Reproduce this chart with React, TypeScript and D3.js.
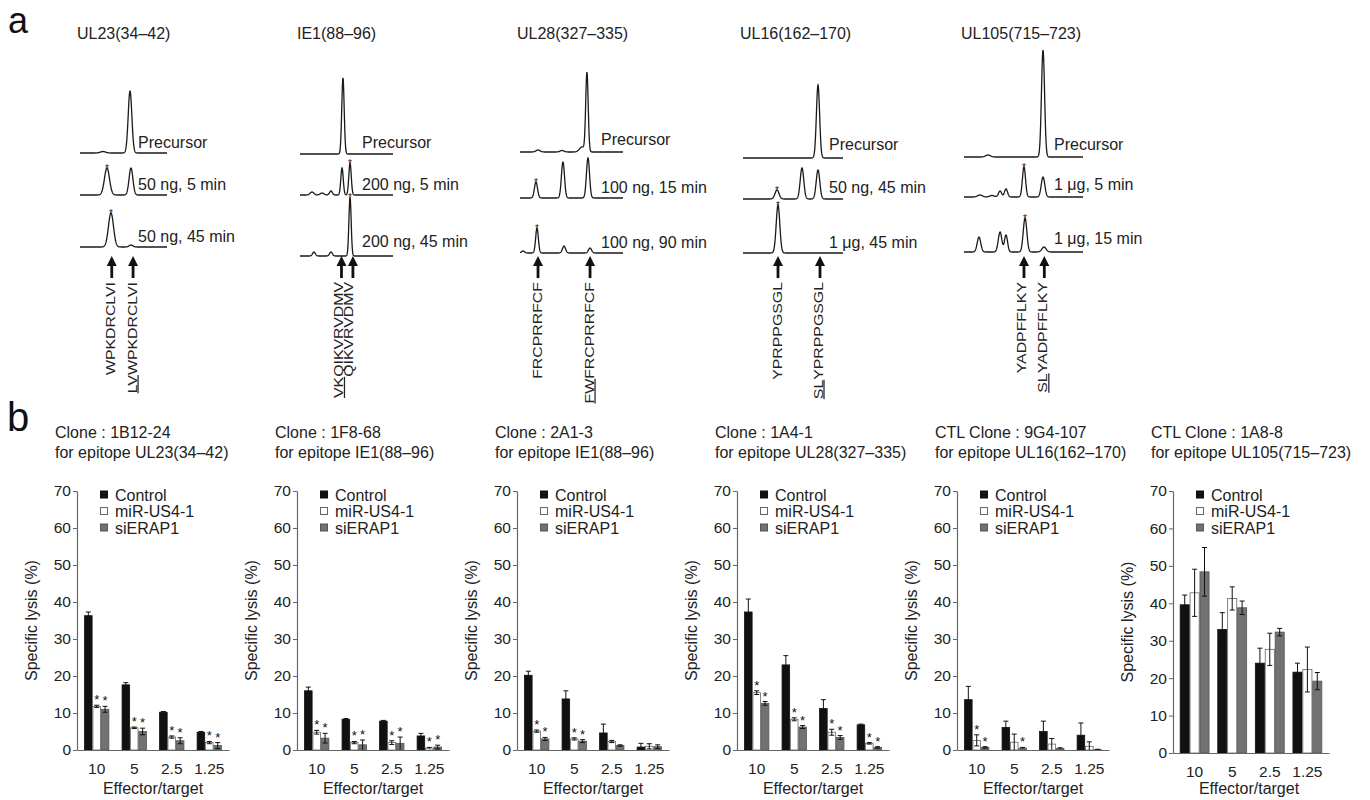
import React, { useEffect, useRef } from "react";
import * as d3 from "d3";

const FONT = "'Liberation Sans', Arial, Helvetica, sans-serif";
const INK = "#222";

// ---------- panel a : HPLC traces ----------
// peaks are [retention (0-100 of the run window), intensity, width]
const epitopeNames = ["UL23(34–42)", "IE1(88–96)", "UL28(327–335)", "UL16(162–170)", "UL105(715–723)"];

const ul23Traces = [
  [[26.4, 1.5, 3], [57.5, 62, 2.1]],
  [[31, 27, 2.9], [58.6, 27, 2.2]],
  [[35.6, 34, 2.9], [58.6, 2, 2.2]],
];
const ie1Traces = [
  [[46.2, 76, 1.3]],
  [[12.9, 3, 2], [23.7, 2, 2], [33.3, 4, 1.5], [45.2, 27, 1.3], [53.8, 32, 1.3]],
  [[15, 4, 1.5], [33.3, 4, 1.5], [53.8, 59, 1.2]],
];
const ul28Traces = [
  [[17.5, 2, 2], [40.8, 1.5, 2], [60.2, 5, 2.5], [65, 79, 1.2]],
  [[15.5, 16, 1.5], [41.7, 36, 1.5], [66, 40, 1.5]],
  [[2.9, 2, 1.5], [16.5, 25, 1.3], [42.7, 7, 1.5], [68, 5, 1.5]],
];
const ul16Traces = [
  [[75, 73, 1.6]],
  [[34, 9, 2], [59, 31, 1.8], [75, 29, 1.8]],
  [[35, 48, 1.8]],
];
const ul105Traces = [
  [[20.2, 2, 2], [66.4, 107, 1.3]],
  [[13.4, 2, 2], [23.5, 1.5, 2], [30.3, 6, 1.3], [35.3, 8, 1.3], [50.4, 30, 1.3], [66.4, 20, 1.5]],
  [[12.6, 15, 1.5], [30.3, 20, 1.5], [35.3, 17, 1.3], [51.3, 34, 1.5], [67.2, 5, 1.8]],
];
// index of the starred peak in each trace (-1 = none)
const ul23Stars = [-1, 0, 0];
const ie1Stars = [-1, 4, 2];
const ul28Stars = [-1, 0, 1];
const ul16Stars = [-1, 0, 0];
const ul105Stars = [-1, 4, 3];

const ul23Conditions = ["Precursor", "50 ng, 5 min", "50 ng, 45 min"];
const ie1Conditions = ["Precursor", "200 ng, 5 min", "200 ng, 45 min"];
const ul28Conditions = ["Precursor", "100 ng, 15 min", "100 ng, 90 min"];
const ul16Conditions = ["Precursor", "50 ng, 45 min", "1 μg, 45 min"];
const ul105Conditions = ["Precursor", "1 μg, 5 min", "1 μg, 15 min"];

// arrows: retention position, peptide, number of underlined leading residues
const ul23Arrows = [36.5, 61];
const ie1Arrows = [44.6, 56.9];
const ul28Arrows = [17.5, 68];
const ul16Arrows = [35, 77];
const ul105Arrows = [50.4, 67.5];
const ul23Peptides = ["WPKDRCLVI", "LVWPKDRCLVI"];
const ie1Peptides = ["VKQIKVRVDMV", "QIKVRVDMV"];
const ul28Peptides = ["FRCPRRFCF", "FWFRCPRRFCF"];
const ul16Peptides = ["YPRPPGSGL", "SLYPRPPGSGL"];
const ul105Peptides = ["YADPFFLKY", "SLYADPFFLKY"];
const ul23Under = [0, 2];
const ie1Under = [2, 0];
const ul28Under = [0, 2];
const ul16Under = [0, 2];
const ul105Under = [0, 2];

// ---------- panel b : cytotoxicity ----------
const ratios = ["10", "5", "2.5", "1.25"];
const groups = ["Control", "miR-US4-1", "siERAP1"];
const cloneNames = ["Clone : 1B12-24", "Clone : 1F8-68", "Clone : 2A1-3", "Clone : 1A4-1", "CTL Clone : 9G4-107", "CTL Clone : 1A8-8"];
const cloneEpitopes = [
  "for epitope UL23(34–42)",
  "for epitope IE1(88–96)",
  "for epitope IE1(88–96)",
  "for epitope UL28(327–335)",
  "for epitope UL16(162–170)",
  "for epitope UL105(715–723)",
];
// [control, miR-US4-1, siERAP1] x ratios
const lysis1B12 = [[36.3, 17.6, 10.2, 4.8], [11.8, 6.0, 3.5, 2.0], [11.0, 5.0, 2.5, 1.2]];
const err1B12 = [[1.0, 0.6, 0.2, 0.2], [0.3, 0.2, 0.3, 0.3], [0.8, 0.9, 0.8, 0.8]];
const sig1B12 = [[0, 0, 0, 0], [1, 1, 1, 1], [1, 1, 1, 1]];

const lysis1F8 = [[16.0, 8.3, 7.8, 3.8], [4.8, 2.0, 2.0, 0.5], [3.2, 1.4, 1.8, 0.8]];
const err1F8 = [[1.0, 0.2, 0.2, 0.7], [0.5, 0.3, 0.5, 0.2], [1.3, 1.3, 1.7, 0.5]];
const sig1F8 = [[0, 0, 0, 0], [1, 1, 1, 1], [1, 1, 1, 1]];

const lysis2A1 = [[20.2, 13.8, 4.6, 0.8], [5.1, 3.0, 2.3, 1.0], [3.0, 2.4, 1.2, 0.9]];
const err2A1 = [[1.1, 2.2, 2.4, 1.0], [0.3, 0.3, 0.3, 0.7], [0.4, 0.4, 0.2, 0.5]];
const sig2A1 = [[0, 0, 0, 0], [1, 1, 0, 0], [1, 1, 0, 0]];

const lysis1A4 = [[37.3, 23.0, 11.2, 6.8], [15.5, 8.3, 4.8, 1.8], [12.6, 6.2, 3.4, 0.7]];
const err1A4 = [[3.5, 2.5, 2.4, 0.2], [0.5, 0.4, 0.8, 0.2], [0.5, 0.4, 0.5, 0.2]];
const sig1A4 = [[0, 0, 0, 0], [1, 1, 1, 1], [1, 1, 1, 1]];

const lysis9G4 = [[13.6, 6.1, 5.0, 4.0], [2.6, 2.1, 1.6, 1.0], [0.7, 0.5, 0.4, 0.1]];
const err9G4 = [[3.6, 1.7, 2.8, 3.3], [1.5, 2.2, 1.5, 1.2], [0.2, 0.2, 0.2, 0.1]];
const sig9G4 = [[0, 0, 0, 0], [1, 0, 0, 0], [1, 1, 0, 0]];

const lysis1A8 = [[39.6, 33.0, 24.0, 21.6], [42.8, 41.3, 27.7, 22.3], [48.4, 38.8, 32.3, 19.2]];
const err1A8 = [[2.6, 4.5, 4.0, 2.4], [6.3, 3.1, 4.3, 6.0], [6.5, 1.8, 1.0, 2.3]];
const sig1A8 = [[0, 0, 0, 0], [0, 0, 0, 0], [0, 0, 0, 0]];

const yTicks = [0, 10, 20, 30, 40, 50, 60, 70];

const barFill = ["#111", "#fff", "#727272"];
const barStroke = ["#111", "#666", "#555"];

function AxisG({ axis, transform }: { axis: any; transform: string }) {
  const ref = useRef<SVGGElement>(null);
  useEffect(() => {
    const g = d3.select(ref.current);
    g.call(axis);
    g.attr("font-family", FONT).attr("font-size", 15.5);
    g.selectAll("text").attr("fill", INK);
    g.selectAll("path.domain").attr("stroke", "#666").attr("stroke-width", 1.2);
    g.selectAll(".tick line").attr("stroke", "#666");
  });
  return <g ref={ref} transform={transform} />;
}

function Lysis({ left, idx, means, errs, sigs, wide }: any) {
  const y = d3.scaleLinear().domain([0, 70]).range(wide ? [753, 491] : [750, 491]);
  const x = d3
    .scaleBand()
    .domain(ratios)
    .range([left, left + (wide ? 156 : 152)])
    .paddingInner(wide ? 0.21 : 0.33)
    .paddingOuter(wide ? 0.18 : 0.19);
  const sub = d3.scaleBand().domain(groups).range([0, x.bandwidth()]);
  const y0 = y(0);
  return (
    <g>
      <text x={left - 22} y={438} fontSize={16} fill={INK}>{cloneNames[idx]}</text>
      <text x={left - 22} y={458} fontSize={16} fill={INK}>{cloneEpitopes[idx]}</text>
      <text transform={`translate(${left - 40},${(y(0) + y(70)) / 2}) rotate(-90)`} textAnchor="middle" fontSize={16} fill={INK}>
        Specific lysis (%)
      </text>
      {groups.map((gname, gi) =>
        ratios.map((r, ri) => {
          const bx = (x(r) as number) + (sub(gname) as number);
          const bw = sub.bandwidth();
          const m = means[gi][ri];
          const e = errs[gi][ri];
          const cx = bx + bw / 2;
          return (
            <g key={gname + r}>
              <rect x={bx + 0.4} y={y(m)} width={bw - 0.8} height={y0 - y(m)} fill={barFill[gi]} stroke={barStroke[gi]} strokeWidth={0.8} />
              <line x1={cx} x2={cx} y1={y(Math.max(0, m - e))} y2={y(m + e)} stroke="#111" strokeWidth={1} />
              <line x1={cx - 2.5} x2={cx + 2.5} y1={y(m + e)} y2={y(m + e)} stroke="#111" strokeWidth={1} />
              {m - e > 0.3 && <line x1={cx - 2.5} x2={cx + 2.5} y1={y(m - e)} y2={y(m - e)} stroke="#111" strokeWidth={1} />}
              {sigs[gi][ri] ? (
                <text x={cx} y={y(m + e) - 1} textAnchor="middle" fontSize={13} fill="#111">*</text>
              ) : null}
            </g>
          );
        })
      )}
      <AxisG
        axis={d3.axisLeft(y).tickValues(yTicks).tickSize(4).tickSizeOuter(0).tickPadding(2)}
        transform={`translate(${left},0)`}
      />
      <AxisG axis={d3.axisBottom(x).tickSize(0).tickSizeOuter(0).tickPadding(13)} transform={`translate(0,${y0})`} />
      <text x={left + 76} y={794} textAnchor="middle" fontSize={16} fill={INK}>Effector/target</text>
      {groups.map((gname, gi) => (
        <g key={gname}>
          <rect x={left + 23.5} y={491 + gi * 16.5} width={7} height={7} fill={barFill[gi]} stroke={barStroke[gi]} strokeWidth={1} />
          <text x={left + 38} y={500.5 + gi * 16.5} fontSize={16} fill={INK}>{gname}</text>
        </g>
      ))}
    </g>
  );
}

function Peptide({ text, under }: { text: string; under: number }) {
  return (
    <>
      {under > 0 && <tspan style={{ textDecoration: "underline" }}>{text.slice(0, under)}</tspan>}
      <tspan>{text.slice(under)}</tspan>
    </>
  );
}

function Chromatogram({ idx, lay, traces, stars, conditions, arrows, peptides, under }: any) {
  const x = d3.scaleLinear().domain([0, 100]).range([lay.x0, lay.x1]);
  const grid = d3.range(0, 100.001, 0.2);
  return (
    <g>
      <text x={lay.x0 - 3} y={39} fontSize={16} fill={INK}>{epitopeNames[idx]}</text>
      {traces.map((peaks: number[][], ti: number) => {
        const y = d3.scaleLinear().domain([0, 100]).range([lay.base[ti], lay.base[ti] - 100]);
        const signal = (t: number) => d3.sum(peaks, (p) => p[1] * Math.exp(-0.5 * ((t - p[0]) / p[2]) ** 2));
        const line = d3
          .line<number>()
          .x((t) => x(t))
          .y((t) => y(signal(t)));
        const s = stars[ti];
        return (
          <g key={ti}>
            <path d={line(grid) as string} fill="none" stroke="#1a1a1a" strokeWidth={1.3} />
            {s >= 0 && (
              <text x={x(peaks[s][0])} y={y(peaks[s][1]) + 4} textAnchor="middle" fontSize={10} fill={INK}>*</text>
            )}
            <text x={lay.labelX} y={lay.labelY[ti]} fontSize={16} fill={INK}>{conditions[ti]}</text>
          </g>
        );
      })}
      {arrows.map((a: number, ai: number) => {
        const ax = x(a);
        const lx = ax + lay.labelDx[ai] + 4.5;
        return (
          <g key={ai}>
            <path d={`M${ax},256 L${ax - 5},266 L${ax + 5},266 Z`} fill="#111" />
            <rect x={ax - 1.4} y={265} width={2.8} height={13} fill="#111" />
            <text transform={`translate(${lx},282) rotate(-90) scale(1.27,1)`} textAnchor="end" fontSize={12.5} fill={INK}>
              <Peptide text={peptides[ai]} under={under[ai]} />
            </text>
          </g>
        );
      })}
    </g>
  );
}

const traceLayout = [
  { x0: 80, x1: 167, base: [153, 195, 247], labelX: 138, labelY: [148, 190, 242], labelDx: [-1, -1] },
  { x0: 300, x1: 393, base: [154, 195, 256], labelX: 362, labelY: [148, 190, 247], labelDx: [-3, -4] },
  { x0: 520, x1: 623, base: [152, 198, 253], labelX: 601, labelY: [145, 193, 248], labelDx: [-0.5, -1] },
  { x0: 743, x1: 843, base: [158, 199, 253], labelX: 829, labelY: [150, 193, 248], labelDx: [-1, -2] },
  { x0: 964, x1: 1083, base: [157, 197, 252], labelX: 1054, labelY: [150, 190, 244], labelDx: [-2.5, -1.5] },
];
const chartLefts = [77, 297, 517, 737, 957, 1173];

export default function App() {
  const chroms = [
    [ul23Traces, ul23Stars, ul23Conditions, ul23Arrows, ul23Peptides, ul23Under],
    [ie1Traces, ie1Stars, ie1Conditions, ie1Arrows, ie1Peptides, ie1Under],
    [ul28Traces, ul28Stars, ul28Conditions, ul28Arrows, ul28Peptides, ul28Under],
    [ul16Traces, ul16Stars, ul16Conditions, ul16Arrows, ul16Peptides, ul16Under],
    [ul105Traces, ul105Stars, ul105Conditions, ul105Arrows, ul105Peptides, ul105Under],
  ];
  const lysis = [
    [lysis1B12, err1B12, sig1B12],
    [lysis1F8, err1F8, sig1F8],
    [lysis2A1, err2A1, sig2A1],
    [lysis1A4, err1A4, sig1A4],
    [lysis9G4, err9G4, sig9G4],
    [lysis1A8, err1A8, sig1A8],
  ];
  return (
    <div style={{ position: "absolute", left: 0, top: 0 }}>
      <svg width={1370} height={800} fontFamily={FONT} style={{ display: "block", background: "#fff" }}>
        <text x={8} y={33} fontSize={36} fill="#111">a</text>
        <text x={7} y={431} fontSize={40} fill="#111">b</text>
        {chroms.map((c, i) => (
          <Chromatogram
            key={i}
            idx={i}
            lay={traceLayout[i]}
            traces={c[0]}
            stars={c[1]}
            conditions={c[2]}
            arrows={c[3]}
            peptides={c[4]}
            under={c[5]}
          />
        ))}
        {lysis.map((l, i) => (
          <Lysis key={i} idx={i} left={chartLefts[i]} means={l[0]} errs={l[1]} sigs={l[2]} wide={i === 5} />
        ))}
      </svg>
    </div>
  );
}
